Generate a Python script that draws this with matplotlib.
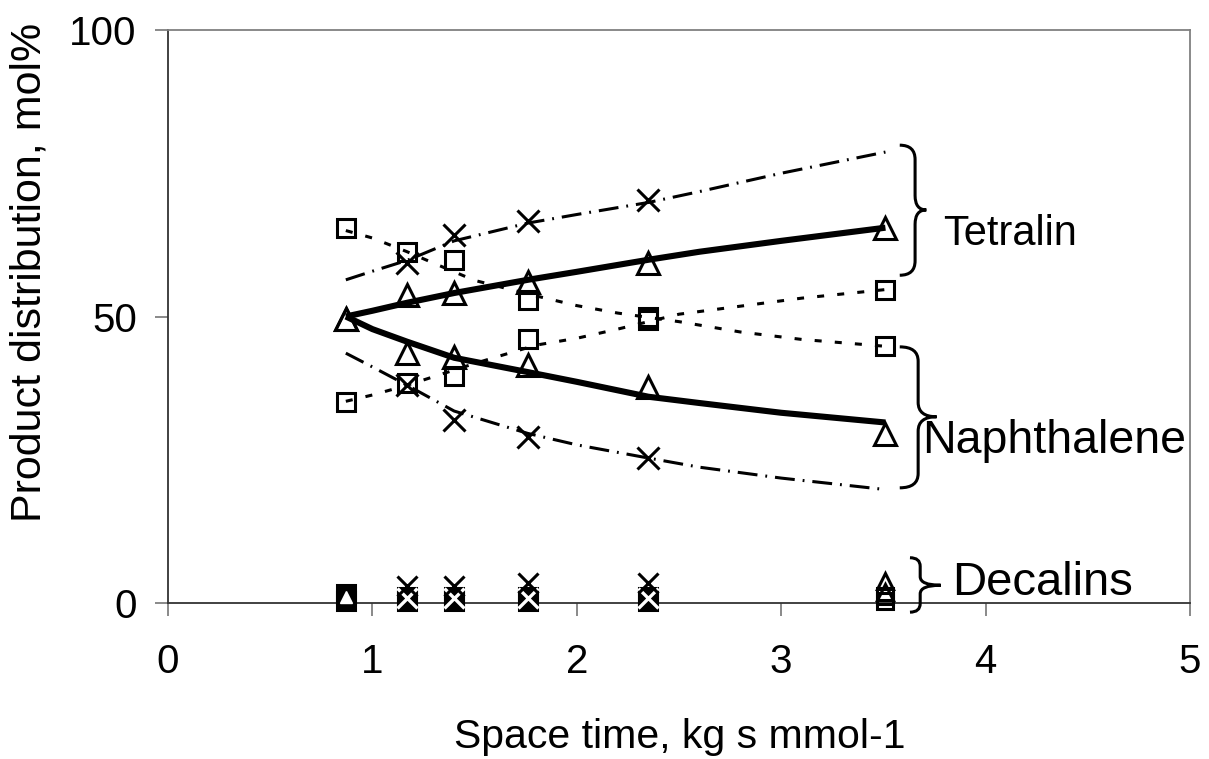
import matplotlib
matplotlib.use("Agg")
import matplotlib.pyplot as plt
from matplotlib.path import Path
from matplotlib.patches import PathPatch

plt.rcParams['font.family'] = ['Liberation Sans', 'DejaVu Sans']

# ---- data ----
space_time = [0.87, 1.17, 1.40, 1.76, 2.35, 3.51]
tetralin_tri = [49.5, 53.8, 54.1, 56.0, 59.4, 65.5]
naphthalene_tri = [49.5, 43.6, 42.9, 41.5, 37.7, 29.5]
tetralin_sq = [35.0, 38.4, 39.6, 46.0, 49.9, 54.7]
naphthalene_sq = [65.4, 61.2, 59.8, 52.9, 49.4, 44.8]

cross_time = [1.17, 1.40, 1.76, 2.35]
tetralin_x = [59.3, 64.2, 66.6, 70.3]
naphthalene_x = [38.0, 31.9, 29.0, 25.3]

fit_time = [0.87, 1.0, 1.17, 1.4, 1.76, 2.0, 2.35, 2.6, 3.0, 3.51]
tetralin_fit_solid = [50.0, 51.0, 52.4, 54.1, 56.4, 57.8, 59.9, 61.3, 63.2, 65.5]
naphthalene_fit_solid = [50.0, 47.8, 45.6, 42.8, 40.3, 38.6, 36.0, 34.9, 33.2, 31.5]
tetralin_fit_dash = [56.4, 57.9, 59.8, 63.2, 66.3, 67.8, 69.9, 71.8, 75.0, 78.7]
naphthalene_fit_dash = [43.6, 41.2, 38.0, 33.5, 29.6, 27.6, 25.3, 23.7, 21.8, 19.8]

dot_time = [0.87, 1.0, 1.17, 1.3, 1.5, 1.8, 2.0, 2.2, 2.5, 2.8, 3.1, 3.51]
naphthalene_fit_dot = [65.0, 63.7, 61.3, 59.3, 56.3, 53.6, 51.9, 50.6, 49.1, 47.3, 46.0, 44.8]
tetralin_fit_dot = [35.2, 36.3, 38.0, 39.5, 41.8, 45.0, 46.2, 47.8, 50.4, 51.8, 53.2, 54.7]

# decalins (near zero)
dec_time = [0.87, 1.17, 1.40, 1.76, 2.35]
decalin_x_black = [0.5, 3.0, 3.0, 3.5, 3.5]
decalin_sq_a = [0.3, 0.3, 0.3, 0.3, 0.3]
decalin_sq_b = [1.5, 1.0, 1.0, 1.0, 1.0]
decalin_x_white = [0.8, 0.8, 0.8, 0.8, 0.8]
dec_end_time = [3.51, 3.51, 3.51, 3.51]
decalin_end_tri = [3.8, 1.9]
decalin_end_sq = [0.3, 1.2]

W, H = 1209, 759
fig = plt.figure(figsize=(W / 100, H / 100), dpi=100)
ax = fig.add_axes([168 / W, 1 - 603 / H, (1190 - 168) / W, (603 - 30) / H])
ax.set_xlim(0, 5)
ax.set_ylim(0, 100)

# fitted curves
ax.plot(fit_time, tetralin_fit_solid, color='black', lw=4.4, solid_capstyle='butt', zorder=3)
ax.plot(fit_time, naphthalene_fit_solid, color='black', lw=4.4, solid_capstyle='butt', zorder=3)
dash = (0, (6.5, 2.6, 0.6, 2.6))
ax.plot(fit_time, tetralin_fit_dash, color='black', lw=2.2, ls=dash, zorder=3)
ax.plot(fit_time, naphthalene_fit_dash, color='black', lw=2.2, ls=dash, zorder=3)
dot = (0, (2.3, 4.3))
ax.plot(dot_time, naphthalene_fit_dot, color='black', lw=2.2, ls=dot, zorder=3)
ax.plot(dot_time, tetralin_fit_dot, color='black', lw=2.2, ls=dot, zorder=3)

# experimental points
mk = dict(ls='none', mfc='none', mec='black', mew=2.2, zorder=4, clip_on=False)
ax.plot(space_time, tetralin_tri, marker='^', ms=16, **mk)
ax.plot(space_time, naphthalene_tri, marker='^', ms=16, **mk)
ax.plot(space_time, tetralin_sq, marker='s', ms=13, **mk)
ax.plot(space_time, naphthalene_sq, marker='s', ms=13, **mk)
ax.plot(cross_time, tetralin_x, marker='x', ms=16, **mk)
ax.plot(cross_time, naphthalene_x, marker='x', ms=16, **mk)

# decalins
ax.plot(dec_time, decalin_sq_a, ls='none', marker='s', ms=12.5, mfc='black', mec='black',
        mew=2.2, zorder=5, clip_on=False)
ax.plot(dec_time, decalin_sq_b, ls='none', marker='s', ms=12.5, mfc='black', mec='black',
        mew=2.2, zorder=5, clip_on=False)
ax.plot(dec_time[1:], decalin_x_white[1:], ls='none', marker='x', ms=15, mec='white',
        mew=2.4, zorder=6, clip_on=False)
ax.plot(dec_time[1:], decalin_x_black[1:], ls='none', marker='x', ms=15, mec='black',
        mew=2.2, zorder=6, clip_on=False)
ax.plot(dec_time[:1], [1.0], ls='none', marker='^', ms=9, mfc='white', mec='white',
        zorder=7, clip_on=False)
ax.plot(dec_end_time[:2], decalin_end_tri, ls='none', marker='^', ms=12, mfc='none', mec='black',
        mew=2.2, zorder=7, clip_on=False)
ax.plot(dec_end_time[2:], decalin_end_sq, ls='none', marker='s', ms=11, mfc='none', mec='black',
        mew=2.2, zorder=7, clip_on=False)

# braces
def brace(x_left, x_spine, x_tip, y_top, y_tip, y_bot, r):
    verts = [(x_left, y_top), (x_spine, y_top), (x_spine, y_top - r),
             (x_spine, y_tip + r),
             (x_spine, y_tip), (x_tip, y_tip),
             (x_spine, y_tip), (x_spine, y_tip - r),
             (x_spine, y_bot + r),
             (x_spine, y_bot), (x_left, y_bot)]
    codes = [Path.MOVETO, Path.CURVE3, Path.CURVE3, Path.LINETO,
             Path.CURVE3, Path.CURVE3, Path.CURVE3, Path.CURVE3,
             Path.LINETO, Path.CURVE3, Path.CURVE3]
    p = PathPatch(Path(verts, codes), fill=False, lw=2.2, ec='black', clip_on=False, zorder=5)
    ax.add_patch(p)

brace(3.58, 3.655, 3.71, 79.9, 68.6, 57.2, 2.5)
brace(3.58, 3.67, 3.76, 44.7, 32.5, 20.1, 2.5)
brace(3.63, 3.68, 3.78, 7.9, 3.1, -1.6, 1.5)

ax.text(3.79, 62.5, 'Tetralin', fontsize=30, va='baseline', ha='left')
ax.text(3.69, 26.2, 'Naphthalene', fontsize=33.5, va='baseline', ha='left')
ax.text(3.835, 1.4, 'Decalins', fontsize=34, va='baseline', ha='left', clip_on=False)

# spines and ticks
for s in ['left', 'bottom']:
    ax.spines[s].set_color('#333333')
    ax.spines[s].set_linewidth(1.3)
for s in ['top', 'right']:
    ax.spines[s].set_color('#808080')
    ax.spines[s].set_linewidth(1.3)
ax.set_xticks([0, 1, 2, 3, 4, 5])
ax.set_yticks([0, 50, 100])
ax.tick_params(axis='both', direction='out', length=9.5, width=1.3, color='#808080',
               labelsize=29)
ax.tick_params(axis='y', pad=13)
ax.tick_params(axis='x', pad=19)

fig.text(680 / W, 1 - 748 / H, 'Space time, kg s mmol-1', fontsize=29.5, ha='center', va='baseline')
fig.text(30 / W, 1 - 522 / H, 'Product distribution, mol%', fontsize=31, rotation=90,
         ha='center', va='bottom')

fig.savefig('out.png', dpi=100)
